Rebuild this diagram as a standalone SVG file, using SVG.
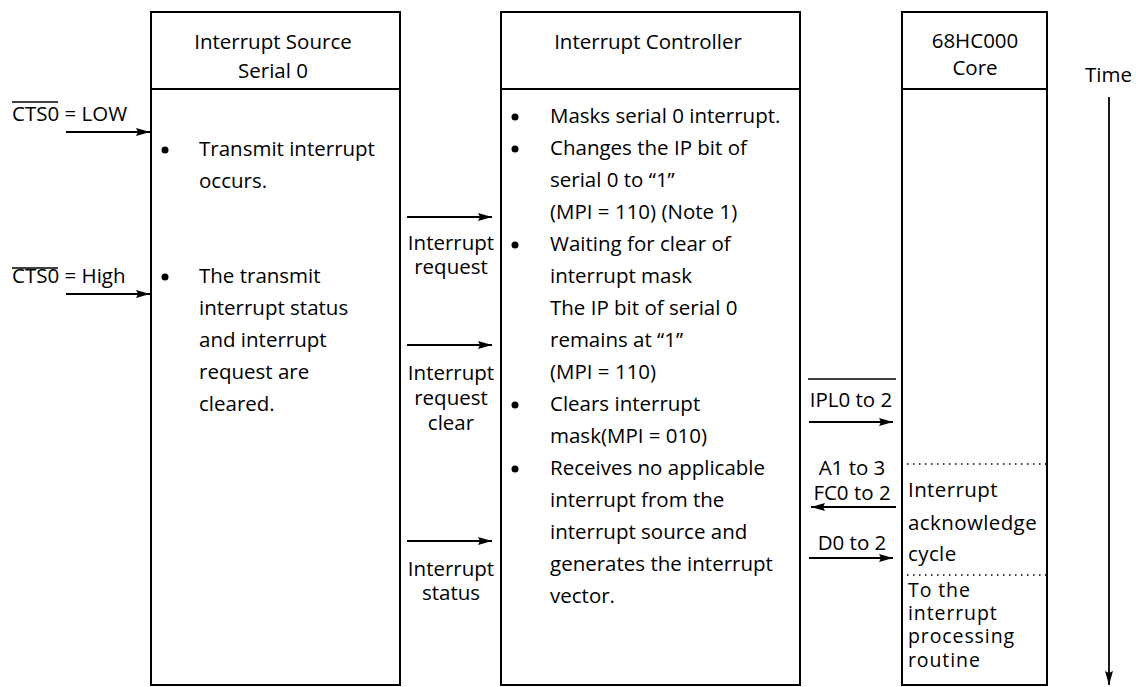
<svg xmlns="http://www.w3.org/2000/svg" width="1136" height="687" viewBox="0 0 1136 687">
<defs>
<style>
.t{font-family:"Open Sans","Noto Sans","Liberation Sans",sans-serif;font-size:20.5px;fill:#000}
.m{text-anchor:middle}
.k{letter-spacing:0.4px}
.s{font-size:19.5px;letter-spacing:0.9px}
.box{fill:none;stroke:#000;stroke-width:2}
.ln{stroke:#000;stroke-width:1.8;fill:none}
.thin{stroke:#000;stroke-width:1.5;fill:none}
.dot{stroke:#000;stroke-width:1.5;stroke-dasharray:1.5 4.5;fill:none}
.arr{stroke:#000;stroke-width:1.8;fill:none;marker-end:url(#ah)}
</style>
<marker id="ah" markerWidth="15" markerHeight="9" refX="14" refY="4.5" orient="auto" markerUnits="userSpaceOnUse">
<path d="M0,0.5 L14,4.5 L0,8.5 L2,4.5 z" fill="#000"/>
</marker>
</defs>

<g id="source">
<rect class="box" x="151" y="12" width="249" height="673"/>
<line class="ln" x1="151" y1="89" x2="400" y2="89"/>
<text class="t m" x="273" y="49">Interrupt Source</text>
<text class="t m" x="273" y="78">Serial 0</text>
<circle cx="165" cy="150" r="3.5"/>
<text class="t" x="199" y="156">Transmit interrupt</text>
<text class="t" x="199" y="188">occurs.</text>
<circle cx="165" cy="277" r="3.5"/>
<text class="t" x="199" y="283">The transmit</text>
<text class="t" x="199" y="315">interrupt status</text>
<text class="t" x="199" y="347">and interrupt</text>
<text class="t" x="199" y="379">request are</text>
<text class="t" x="199" y="411">cleared.</text>
</g>

<g id="controller">
<rect class="box" x="501" y="12" width="299" height="673"/>
<line class="ln" x1="501" y1="89" x2="800" y2="89"/>
<text class="t m" x="648" y="49">Interrupt Controller</text>
<circle cx="515" cy="117" r="3.5"/>
<text class="t" x="550" y="123">Masks serial 0 interrupt.</text>
<circle cx="515" cy="149" r="3.5"/>
<text class="t" x="550" y="155">Changes the IP bit of</text>
<text class="t" x="550" y="187">serial 0 to “1”</text>
<text class="t" x="550" y="219">(MPI = 110) (Note 1)</text>
<circle cx="515" cy="245" r="3.5"/>
<text class="t" x="550" y="251">Waiting for clear of</text>
<text class="t" x="550" y="283">interrupt mask</text>
<text class="t" x="550" y="315">The IP bit of serial 0</text>
<text class="t" x="550" y="347">remains at “1”</text>
<text class="t" x="550" y="379">(MPI = 110)</text>
<circle cx="515" cy="405" r="3.5"/>
<text class="t" x="550" y="411">Clears interrupt</text>
<text class="t" x="550" y="443">mask(MPI = 010)</text>
<circle cx="515" cy="469" r="3.5"/>
<text class="t" x="550" y="475">Receives no applicable</text>
<text class="t" x="550" y="507">interrupt from the</text>
<text class="t" x="550" y="539">interrupt source and</text>
<text class="t" x="550" y="571">generates the interrupt</text>
<text class="t" x="550" y="603">vector.</text>
</g>

<g id="core">
<rect class="box" x="902" y="12" width="145" height="673"/>
<line class="ln" x1="902" y1="89" x2="1047" y2="89"/>
<text class="t m" x="975" y="48">68HC000</text>
<text class="t m" x="975" y="75">Core</text>
<line class="dot" x1="907" y1="464" x2="1046" y2="464"/>
<text class="t k" x="908" y="497">Interrupt</text>
<text class="t k" x="908" y="530">acknowledge</text>
<text class="t k" x="908" y="561">cycle</text>
<line class="dot" x1="907" y1="575" x2="1046" y2="575"/>
<text class="t s" x="908" y="597">To the</text>
<text class="t s" x="908" y="620">interrupt</text>
<text class="t s" x="908" y="643">processing</text>
<text class="t s" x="908" y="667">routine</text>
</g>

<g id="time">
<text class="t" x="1085" y="82">Time</text>
<line class="arr" x1="1109" y1="97" x2="1109" y2="685"/>
</g>

<g id="connectors">
<text class="t" x="12" y="121">CTS0 = LOW</text>
<line class="thin" x1="12" y1="102" x2="58" y2="102"/>
<line class="arr" x1="66" y1="132" x2="150" y2="132"/>
<text class="t" x="12" y="283">CTS0 = High</text>
<line class="thin" x1="12" y1="268" x2="58" y2="268"/>
<line class="arr" x1="66" y1="294" x2="150" y2="294"/>

<line class="arr" x1="407" y1="217" x2="492" y2="217"/>
<text class="t m" x="451" y="250">Interrupt</text>
<text class="t m" x="451" y="274">request</text>
<line class="arr" x1="407" y1="345" x2="492" y2="345"/>
<text class="t m" x="451" y="380">Interrupt</text>
<text class="t m" x="451" y="405">request</text>
<text class="t m" x="451" y="430">clear</text>
<line class="arr" x1="407" y1="541" x2="492" y2="541"/>
<text class="t m" x="451" y="576">Interrupt</text>
<text class="t m" x="451" y="600">status</text>

<line class="thin" x1="808" y1="379" x2="896" y2="379"/>
<text class="t m" x="851" y="407">IPL0 to 2</text>
<line class="arr" x1="809" y1="422" x2="893" y2="422"/>
<text class="t m" x="852" y="475">A1 to 3</text>
<text class="t m" x="852" y="500">FC0 to 2</text>
<line class="arr" x1="896" y1="507" x2="811" y2="507"/>
<text class="t m" x="852" y="550">D0 to 2</text>
<line class="arr" x1="809" y1="558" x2="893" y2="558"/>
</g>
</svg>
